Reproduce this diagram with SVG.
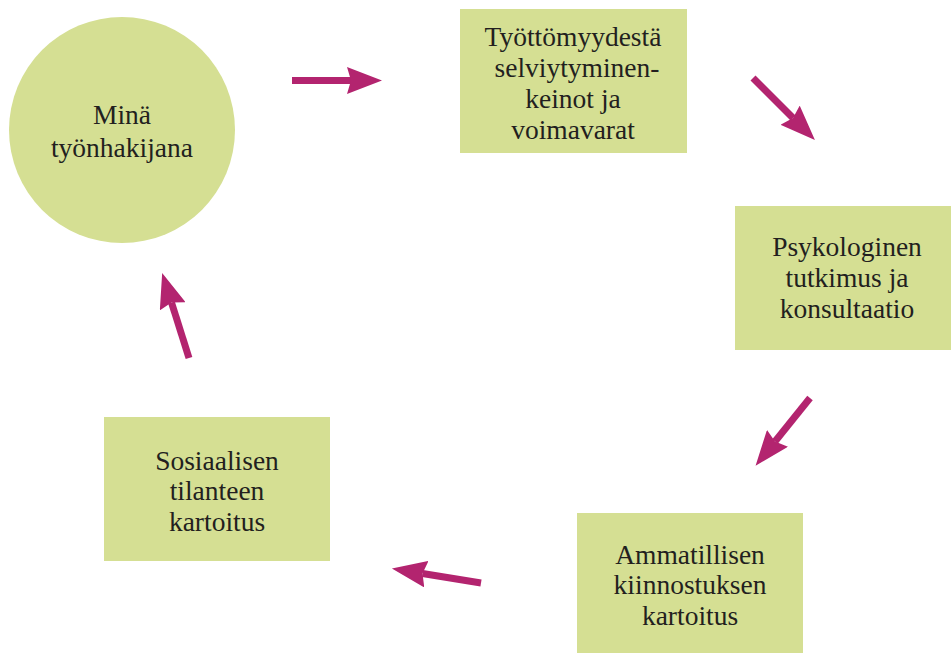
<svg xmlns="http://www.w3.org/2000/svg" width="951" height="653" viewBox="0 0 951 653">
<style>
.n{fill:#d5df93}
.t{font-family:"Liberation Serif","Times New Roman",serif;font-size:27.5px;fill:#231f20;text-anchor:middle}
.a{stroke:#b3246f;stroke-width:7;fill:none;marker-end:url(#h)}
</style>
<defs>
<marker id="h" markerUnits="userSpaceOnUse" markerWidth="36" markerHeight="27" viewBox="0 0 36 27" refX="4" refY="13.5" orient="auto">
<path d="M35,13.5 L0,0 L4,13.5 L0,27 Z" fill="#b3246f"/>
</marker>
</defs>
<rect width="951" height="653" fill="#fff"/>
<g id="n1"><circle class="n" cx="122" cy="130" r="113"/>
<text class="t" x="122" y="124">Minä</text><text class="t" x="122" y="157">työnhakijana</text></g>
<g id="n2"><rect class="n" x="460" y="9" width="227" height="144"/>
<text class="t" x="573" y="46">Työttömyydestä</text><text class="t" x="577" y="77">selviytyminen-</text><text class="t" x="573" y="108">keinot ja</text><text class="t" x="573" y="139">voimavarat</text></g>
<g id="n3"><rect class="n" x="735" y="206" width="216" height="144"/>
<text class="t" x="847" y="256">Psykologinen</text><text class="t" x="847" y="287">tutkimus ja</text><text class="t" x="847" y="318">konsultaatio</text></g>
<g id="n4"><rect class="n" x="577" y="513" width="226" height="140"/>
<text class="t" x="690" y="564">Ammatillisen</text><text class="t" x="690" y="594">kiinnostuksen</text><text class="t" x="690" y="625">kartoitus</text></g>
<g id="n5"><rect class="n" x="104" y="417" width="226" height="144"/>
<text class="t" x="217" y="470">Sosiaalisen</text><text class="t" x="217" y="500">tilanteen</text><text class="t" x="217" y="531">kartoitus</text></g>
<g id="connectors">
<line class="a" x1="292" y1="80.5" x2="351" y2="80.5"/>
<line class="a" x1="753" y1="78" x2="793" y2="118"/>
<line class="a" x1="810" y1="398" x2="775" y2="441.5"/>
<line class="a" x1="481" y1="583" x2="422.5" y2="573.5"/>
<line class="a" x1="189" y1="358" x2="171.5" y2="302.5"/>
</g>
</svg>
